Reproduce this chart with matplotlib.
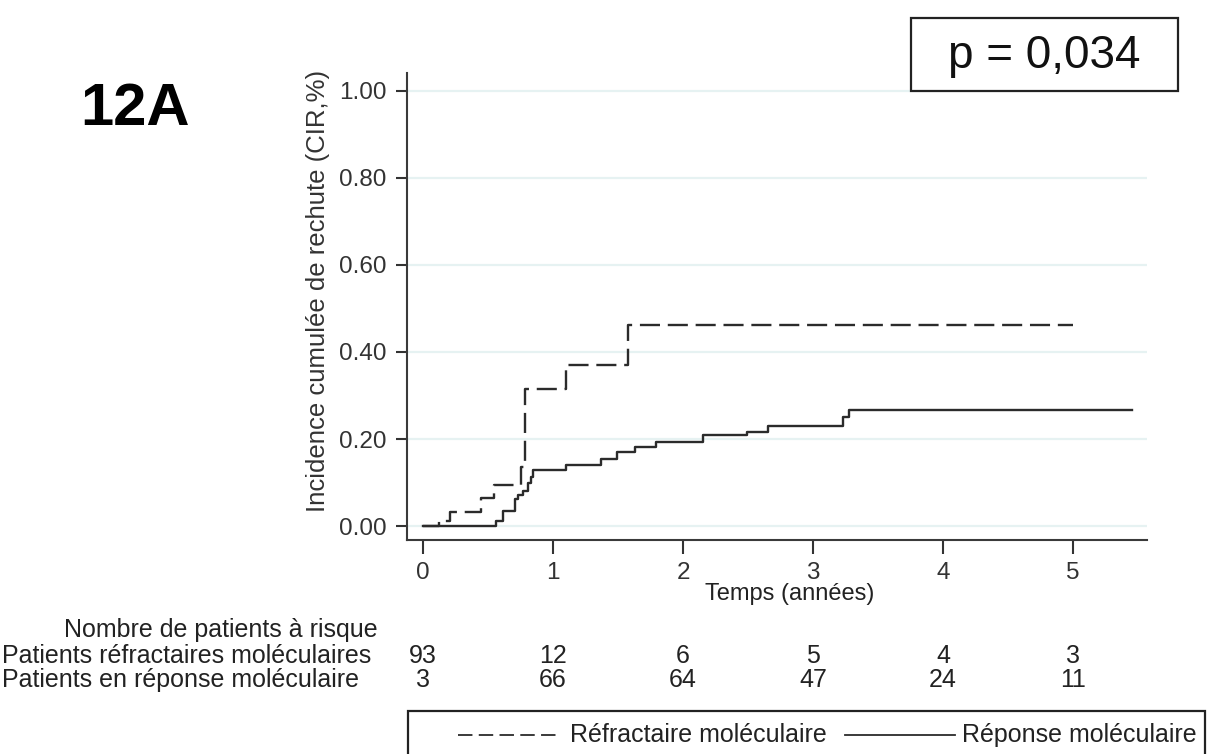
import matplotlib
matplotlib.use("Agg")
import matplotlib.pyplot as plt
import matplotlib.transforms as mtransforms
from matplotlib.lines import Line2D
from matplotlib.patches import Rectangle

W, H = 1208, 754
INK = "#2b2b2b"

# cumulative incidence of relapse, step functions (years, CIR)
t_refract = [0, 0.126, 0.208, 0.446, 0.546, 0.751, 0.787, 1.098, 1.577, 5.0]
cir_refract = [0, 0.011, 0.032, 0.064, 0.095, 0.136, 0.316, 0.370, 0.462, 0.462]

t_reponse = [0, 0.559, 0.618, 0.708, 0.733, 0.772, 0.810, 0.831, 0.849, 1.098,
             1.369, 1.49, 1.631, 1.79, 2.156, 2.49, 2.656, 3.233, 3.277, 5.45]
cir_reponse = [0, 0.012, 0.034, 0.062, 0.071, 0.080, 0.098, 0.113, 0.129, 0.140,
               0.153, 0.171, 0.182, 0.194, 0.209, 0.217, 0.231, 0.251, 0.267, 0.267]

# number at risk table
risk_times = [0, 1, 2, 3, 4, 5]
risk_refract = [93, 12, 6, 5, 4, 3]
risk_reponse = [3, 66, 64, 47, 24, 11]

xticks = [0, 1, 2, 3, 4, 5]
yticks = [0.0, 0.2, 0.4, 0.6, 0.8, 1.0]


def fx(px):
    return px / W


def fy(py):
    return 1 - py / H


plt.rcParams["font.family"] = ["Liberation Sans", "DejaVu Sans"]

fig = plt.figure(figsize=(W / 100, H / 100), dpi=100)
ax = fig.add_axes([fx(407), fy(540), 740 / W, 467 / H])

ax.step(t_refract, cir_refract, where="post", color=INK, lw=1.7,
        linestyle=(0, (8.5, 3.3)))
ax.step(t_reponse, cir_reponse, where="post", color=INK, lw=1.7)

ax.set_xlim(-0.123, 5.569)
ax.set_ylim(-0.032, 1.041)
ax.set_xticks(xticks)
ax.set_xticklabels([str(v) for v in xticks])
ax.set_yticks(yticks)
ax.set_yticklabels([f"{v:.2f}" for v in yticks])
ax.yaxis.grid(True, color="#e6f2f2", lw=1.6)
ax.set_axisbelow(True)

for side in ("top", "right"):
    ax.spines[side].set_visible(False)
for side in ("left", "bottom"):
    ax.spines[side].set_color("#3a3a3a")
    ax.spines[side].set_linewidth(1.5)

ax.tick_params(axis="x", direction="out", length=10, width=1.5, pad=6,
               labelsize=17.5, colors="#333333")
ax.tick_params(axis="y", direction="out", length=8, width=1.5, pad=7,
               labelsize=17.5, colors="#333333")

ax.set_xlabel("Temps (années)", fontsize=17, color="#222222")
ax.xaxis.set_label_coords((790 - 407) / 740, (540 - 594) / 467)
ax.xaxis.label.set_va("center")
ax.set_ylabel("Incidence cumulée de rechute (CIR,%)", fontsize=18.5, color="#333333")
ax.yaxis.set_label_coords((318 - 407) / 740, (540 - 291) / 467)
ax.yaxis.label.set_va("center")

# panel label
fig.text(fx(190), fy(125), "12A", fontsize=43, fontweight="bold",
         ha="right", va="baseline", color="black")

# p-value box
fig.add_artist(Rectangle((fx(911), fy(91)), (1178 - 911) / W, (91 - 18) / H,
                         transform=fig.transFigure, facecolor="white",
                         edgecolor="#222222", lw=1.6, zorder=5))
fig.text(fx(1044), fy(68), "p = 0,034", fontsize=33, ha="center",
         va="baseline", color="#111111", zorder=6)

# number at risk
trans = mtransforms.blended_transform_factory(ax.transData, fig.transFigure)
fig.text(fx(378), fy(630), "Nombre de patients à risque", fontsize=18,
         ha="right", va="center", color="#222222")
fig.text(fx(2), fy(656), "Patients réfractaires moléculaires", fontsize=18,
         ha="left", va="center", color="#222222")
fig.text(fx(2), fy(680), "Patients en réponse moléculaire", fontsize=18,
         ha="left", va="center", color="#222222")
for t, n1, n2 in zip(risk_times, risk_refract, risk_reponse):
    ax.text(t, fy(656), str(n1), transform=trans, fontsize=18,
            ha="center", va="center", color="#222222", clip_on=False)
    ax.text(t, fy(680), str(n2), transform=trans, fontsize=18,
            ha="center", va="center", color="#222222", clip_on=False)

# legend box (runs off the bottom edge)
fig.add_artist(Rectangle((fx(408), fy(765)), (1205 - 408) / W, (765 - 711) / H,
                         transform=fig.transFigure, facecolor="white",
                         edgecolor="#222222", lw=1.6))
fig.add_artist(Line2D([fx(458), fx(556)], [fy(735), fy(735)],
                      transform=fig.transFigure, color=INK, lw=1.3,
                      linestyle=(0, (8, 3.5))))
fig.text(fx(570), fy(735), "Réfractaire moléculaire", fontsize=18,
         ha="left", va="center", color="#222222")
fig.add_artist(Line2D([fx(845), fx(955)], [fy(735), fy(735)],
                      transform=fig.transFigure, color=INK, lw=1.3))
fig.text(fx(962), fy(735), "Réponse moléculaire", fontsize=18,
         ha="left", va="center", color="#222222")

fig.savefig("out.png", dpi=100)
